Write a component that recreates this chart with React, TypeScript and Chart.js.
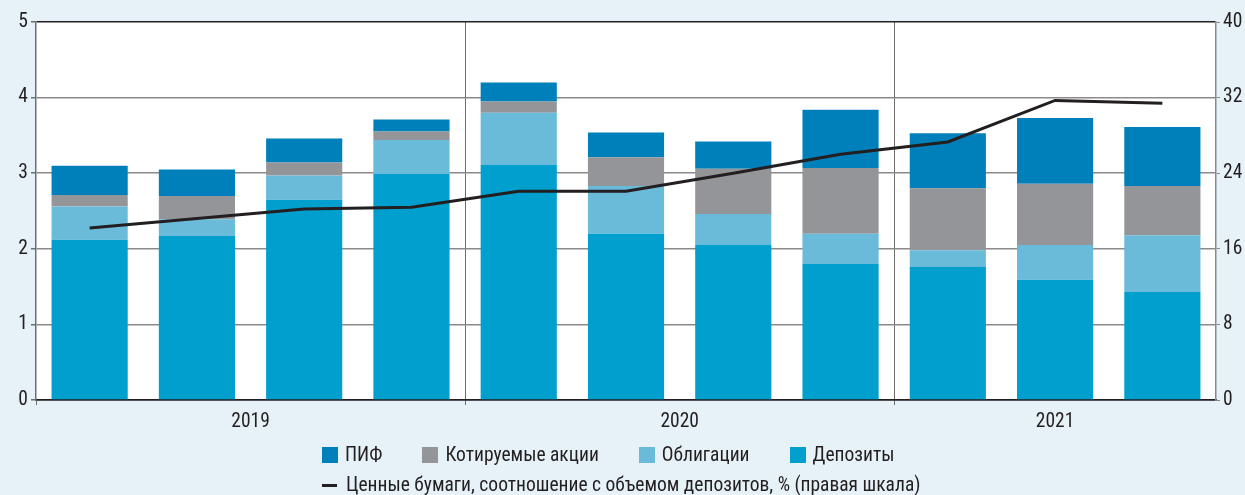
import React, { useEffect, useRef } from 'react';
import { Chart, registerables } from 'chart.js';

Chart.register(...registerables);

// ---- data ----
const categories = [
  'I кв. 2019', 'II кв. 2019', 'III кв. 2019', 'IV кв. 2019',
  'I кв. 2020', 'II кв. 2020', 'III кв. 2020', 'IV кв. 2020',
  'I кв. 2021', 'II кв. 2021', 'III кв. 2021',
];
const categoryYears = ['2019', '2019', '2019', '2019', '2020', '2020', '2020', '2020', '2021', '2021', '2021'];

const deposits = [2.12, 2.17, 2.65, 2.99, 3.11, 2.2, 2.05, 1.8, 1.76, 1.59, 1.43];
const bonds = [0.44, 0.22, 0.32, 0.45, 0.69, 0.63, 0.41, 0.4, 0.22, 0.46, 0.75];
const stocks = [0.15, 0.31, 0.17, 0.11, 0.15, 0.38, 0.6, 0.87, 0.82, 0.81, 0.65];
const funds = [0.39, 0.35, 0.32, 0.16, 0.25, 0.33, 0.36, 0.77, 0.73, 0.87, 0.78];
const ratio = [18.2, 19.2, 20.2, 20.4, 22.1, 22.1, 24.0, 26.0, 27.3, 31.7, 31.4];

const leftTicks = [0, 1, 2, 3, 4, 5];
const rightTicks = [0, 8, 16, 24, 32, 40];

const labelFunds = 'ПИФ';
const labelStocks = 'Котируемые акции';
const labelBonds = 'Облигации';
const labelDeposits = 'Депозиты';
const labelRatio = 'Ценные бумаги, соотношение с объемом депозитов, % (правая шкала)';

// ---- styles ----
const FONT = "'Roboto Condensed', 'Liberation Sans', Arial, sans-serif";
const FSIZE = 19.5;
const TEXT = '#231f20';
const BG = '#e6f1f8';
const C_FUNDS = '#0080ba';
const C_STOCKS = '#949599';
const C_BONDS = '#6abbda';
const C_DEPOSITS = '#009fcd';
const GRID = '#8a8a8a';

const boundaries: number[] = [0];
categoryYears.forEach((y, i) => {
  if (i > 0 && y !== categoryYears[i - 1]) boundaries.push(i);
});
boundaries.push(categoryYears.length);

export default function App() {
  const ref = useRef<HTMLCanvasElement>(null);

  useEffect(() => {
    document.body.style.margin = '0';
    if (!ref.current) return;

    const plotBg = {
      id: 'plotBg',
      beforeDraw(chart: any) {
        const { ctx, chartArea } = chart;
        ctx.save();
        ctx.fillStyle = '#ffffff';
        ctx.fillRect(chartArea.left, chartArea.top, chartArea.right - chartArea.left, chartArea.bottom - chartArea.top);
        ctx.restore();
      },
    };

    const yearLabels = {
      id: 'yearLabels',
      afterDraw(chart: any) {
        const { ctx } = chart;
        const xs = chart.scales.x;
        ctx.save();
        ctx.fillStyle = TEXT;
        ctx.font = `${FSIZE}px ${FONT}`;
        ctx.textAlign = 'center';
        ctx.textBaseline = 'middle';
        for (let g = 0; g < boundaries.length - 1; g++) {
          const a = boundaries[g];
          const b = boundaries[g + 1] - 1;
          const cx = (xs.getPixelForValue(a) + xs.getPixelForValue(b)) / 2;
          ctx.fillText(categoryYears[a], cx, chart.chartArea.bottom + 22);
        }
        ctx.restore();
      },
    };

    const chart = new Chart(ref.current, {
      type: 'bar',
      data: {
        labels: categories,
        datasets: [
          { type: 'line', label: labelRatio, data: ratio, yAxisID: 'y1', borderColor: TEXT, borderWidth: 3, pointRadius: 0, tension: 0, order: 0 } as any,
          { label: labelDeposits, data: deposits, backgroundColor: C_DEPOSITS, yAxisID: 'y', order: 1, stack: 's' },
          { label: labelBonds, data: bonds, backgroundColor: C_BONDS, yAxisID: 'y', order: 1, stack: 's' },
          { label: labelStocks, data: stocks, backgroundColor: C_STOCKS, yAxisID: 'y', order: 1, stack: 's' },
          { label: labelFunds, data: funds, backgroundColor: C_FUNDS, yAxisID: 'y', order: 1, stack: 's' },
        ],
      },
      options: {
        animation: false,
        responsive: false,
        devicePixelRatio: 1,
        layout: { padding: { top: 22, left: 0, right: 0, bottom: 0 } },
        datasets: { bar: { categoryPercentage: 0.71, barPercentage: 1 } },
        plugins: { legend: { display: false }, tooltip: { enabled: false } },
        scales: {
          x: {
            stacked: true,
            ticks: { display: false },
            grid: {
              offset: true,
              drawOnChartArea: true,
              color: (ctx: any) => (boundaries.includes(ctx.index) && ctx.index > 0 && ctx.index < categories.length ? '#6d6e71' : 'rgba(0,0,0,0)'),
              tickColor: (ctx: any) => (boundaries.includes(ctx.index) ? '#6d6e71' : 'rgba(0,0,0,0)'),
              tickLength: 5,
            },
            border: { color: TEXT, width: 1.5 },
            afterFit: (s: any) => { s.height = 95; },
          },
          y: {
            position: 'left',
            stacked: true,
            min: leftTicks[0],
            max: leftTicks[leftTicks.length - 1],
            afterBuildTicks: (s: any) => { s.ticks = leftTicks.map((v) => ({ value: v })); },
            ticks: { color: TEXT, font: { family: FONT, size: FSIZE }, padding: 3 },
            grid: {
              color: (ctx: any) => (ctx.tick && (ctx.tick.value === 5 || ctx.tick.value === 0) ? TEXT : GRID),
              lineWidth: 1.5,
              tickColor: '#6d6e71',
              tickLength: 5,
            },
            border: { color: '#6d6e71', width: 1.5 },
            afterFit: (s: any) => { s.width = 36; },
          },
          y1: {
            position: 'right',
            min: rightTicks[0],
            max: rightTicks[rightTicks.length - 1],
            afterBuildTicks: (s: any) => { s.ticks = rightTicks.map((v) => ({ value: v })); },
            ticks: { color: TEXT, font: { family: FONT, size: FSIZE }, padding: 3 },
            grid: { drawOnChartArea: false, tickColor: GRID, tickLength: 4 },
            border: { color: GRID, width: 1.5 },
            afterFit: (s: any) => { s.width = 29; },
          },
        },
      },
      plugins: [plotBg, yearLabels],
    } as any);

    return () => chart.destroy();
  }, []);

  const legendItems = [
    { label: labelFunds, color: C_FUNDS },
    { label: labelStocks, color: C_STOCKS },
    { label: labelBonds, color: C_BONDS },
    { label: labelDeposits, color: C_DEPOSITS },
  ];

  const textStyle: React.CSSProperties = {
    fontFamily: FONT,
    fontSize: FSIZE,
    color: TEXT,
    lineHeight: '20px',
    whiteSpace: 'nowrap',
  };

  return (
    <div style={{ position: 'absolute', left: 0, top: 0, width: 1245, height: 495, background: BG, overflow: 'hidden' }}>
      <canvas ref={ref} width={1245} height={495} style={{ display: 'block' }} />
      <div style={{ position: 'absolute', left: 322, top: 445, display: 'flex', alignItems: 'center', height: 20 }}>
        {legendItems.map((it, i) => (
          <div key={i} style={{ display: 'flex', alignItems: 'center', marginRight: 40 }}>
            <span style={{ display: 'inline-block', width: 16, height: 16, background: it.color, marginRight: 7 }} />
            <span style={textStyle}>{it.label}</span>
          </div>
        ))}
      </div>
      <div style={{ position: 'absolute', left: 322, top: 475, display: 'flex', alignItems: 'center', height: 20 }}>
        <span style={{ display: 'inline-block', width: 15, height: 3, background: TEXT, marginRight: 9 }} />
        <span style={textStyle}>{labelRatio}</span>
      </div>
    </div>
  );
}
